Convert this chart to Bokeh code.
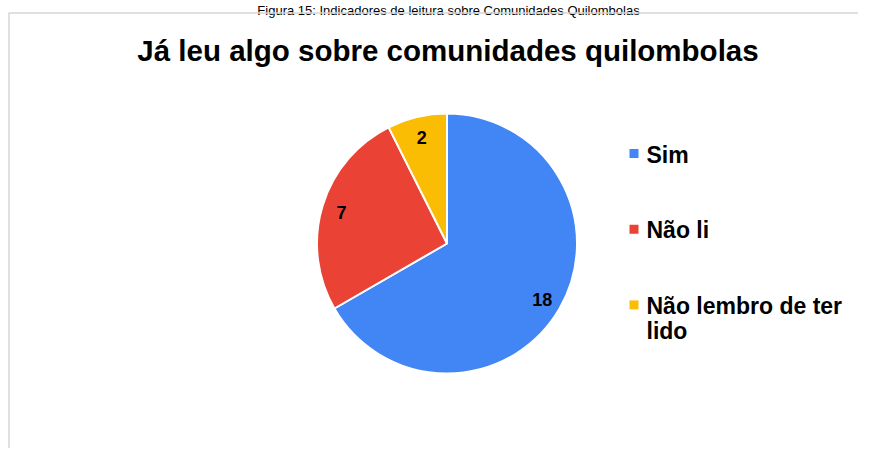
import math
from bokeh.plotting import figure
from bokeh.models import Range1d, ColumnDataSource
from bokeh.core.properties import value
from bokeh.embed import file_html
from bokeh.resources import INLINE

# ---- data ----
caption = "Figura 15: Indicadores de leitura sobre Comunidades Quilombolas"
title = "Já leu algo sobre comunidades quilombolas"
categories = ["Sim", "Não li", "Não lembro de ter lido"]
legend_labels = ["Sim", "Não li", "Não lembro de ter\nlido"]
counts = [18, 7, 2]
colors = ["#4285F4", "#EA4335", "#FBBC04"]

# ---- layout helpers (picture px -> figure data coords) ----
W, H = 858, 448
TXT_DY = 7  # correction for alphabetic baseline placement
def X(px):
    return px
def Y(py):
    return H - py
def YT(py):
    return H - (py - TXT_DY)

FONT = value("Liberation Sans")

p = figure(width=W, height=H, x_range=Range1d(0, W), y_range=Range1d(0, H),
           output_backend="svg", toolbar_location=None, min_border=0,
           x_axis_type=None, y_axis_type=None)
p.grid.visible = False
p.outline_line_color = None
p.background_fill_color = "white"
p.border_fill_color = "white"

# caption above the chart box (kept fully visible)
p.text(x=[X(448)], y=[Y(10)], text=[caption], text_font=FONT, text_font_size="13px",
       text_align="center", text_baseline="alphabetic", text_color="#000000")

# chart-area border (left and top edges visible)
p.line(x=[X(8.5), X(8.5), X(900)], y=[Y(600), Y(12.5), Y(12.5)],
       line_color="#d6d6d6", line_width=1.5)

# title
p.text(x=[X(447.5)], y=[YT(57)], text=[title], text_font=FONT, text_font_size="29.5px",
       text_font_style="bold", text_align="center", text_baseline="alphabetic",
       text_color="#000000")

# ---- pie ----
cx, cy, R, label_r = X(446.5), Y(243), 130, 110
total = sum(counts)
starts, ends, lx, ly = [], [], [], []
cum = 0
for c in counts:
    s = math.pi / 2 - 2 * math.pi * cum / total
    e = math.pi / 2 - 2 * math.pi * (cum + c) / total
    starts.append(s)
    ends.append(e)
    m = (s + e) / 2
    lx.append(cx + label_r * math.cos(m))
    ly.append(cy + label_r * math.sin(m))
    cum += c

src = ColumnDataSource(dict(start=starts, end=ends, color=colors, cat=categories,
                            lx=lx, ly=ly, txt=[str(c) for c in counts]))
p.wedge(x=cx, y=cy, radius=R, start_angle="start", end_angle="end", direction="clock",
        fill_color="color", line_color="white", line_width=2, source=src)
p.text(x="lx", y="ly", text="txt", source=src, text_font=FONT, text_font_size="18px",
       text_font_style="bold", text_align="center", text_baseline="middle",
       y_offset=1, text_color="#000000")

# ---- legend ----
leg_top, leg_step, line_gap = 153, 75.7, 25
sq_y = [Y(leg_top + i * leg_step) for i in range(len(categories))]
p.rect(x=X(633.5), y=sq_y, width=9, height=9, fill_color=colors, line_color=None)
tx, ty, tt = [], [], []
for i, lab in enumerate(legend_labels):
    for j, line in enumerate(lab.split("\n")):
        tx.append(X(646))
        ty.append(YT(leg_top + i * leg_step + 8 + j * line_gap))
        tt.append(line)
p.text(x=tx, y=ty, text=tt, text_font=FONT, text_font_size="23px",
       text_font_style="bold", text_align="left", text_baseline="alphabetic",
       text_color="#000000")

open("out.html", "w").write(file_html(p, INLINE))
